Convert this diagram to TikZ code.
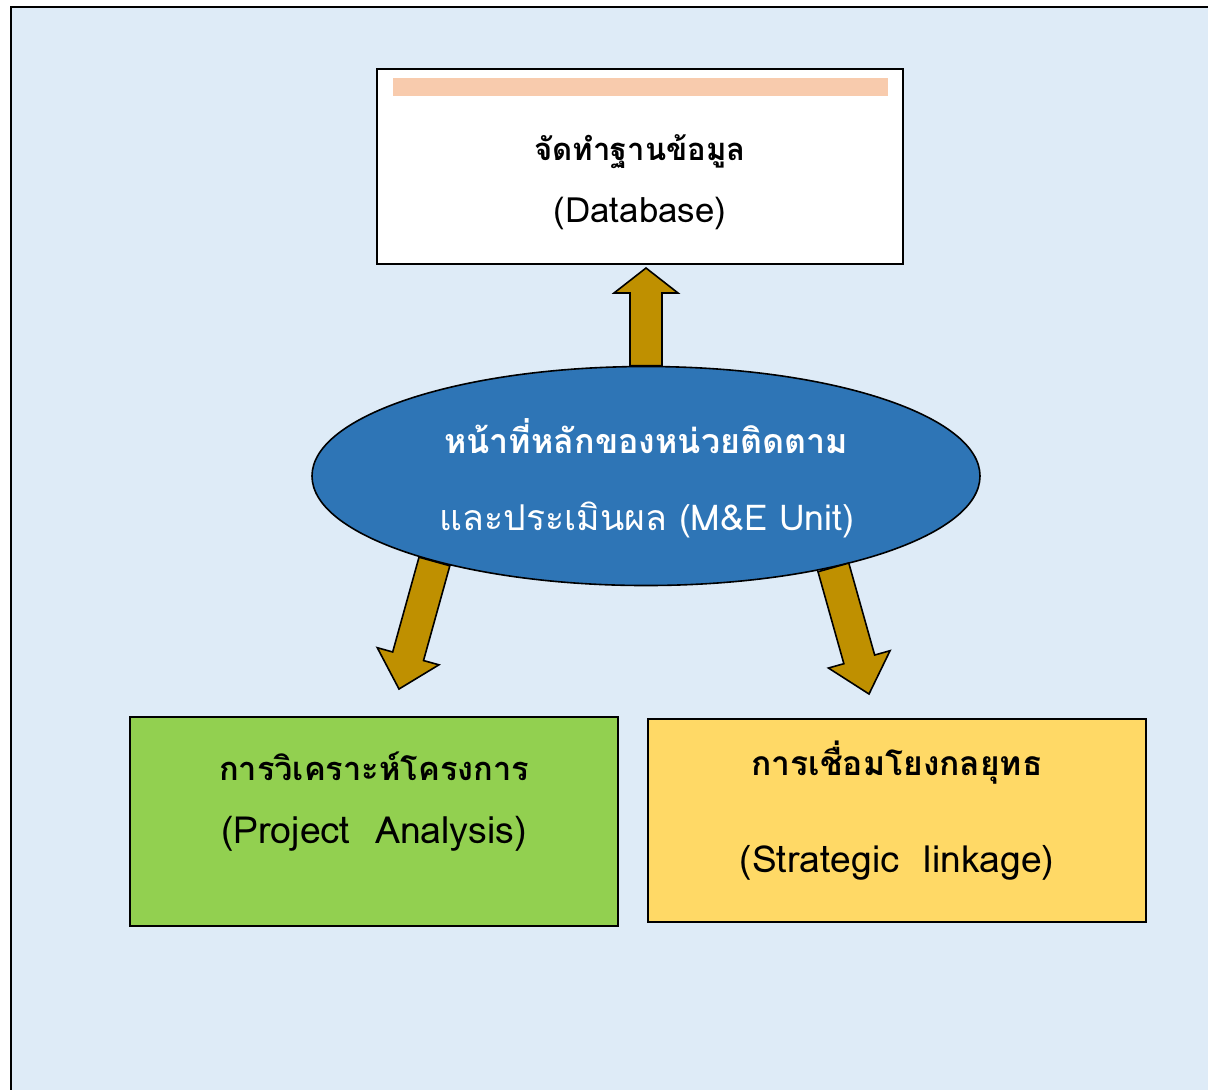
\documentclass[tikz,border=0pt]{standalone}
\usepackage{fontspec}
\setmainfont{Loma}[Script=Thai]
\usepackage{tikz}
\usetikzlibrary{positioning}
\usetikzlibrary{calc}
\usetikzlibrary{shapes.geometric}
\definecolor{pagebg}{HTML}{DEEBF7}
\definecolor{unitblue}{HTML}{2E75B6}
\definecolor{arrowgold}{HTML}{BF9000}
\definecolor{peach}{HTML}{F8CBAD}
\definecolor{projgreen}{HTML}{92D050}
\definecolor{linkyellow}{HTML}{FFD966}
\tikzset{%
  box/.style = {rectangle,draw,line width=1pt,inner sep=0pt},
  unit/.style = {ellipse,draw,line width=0.8pt,fill=unitblue,inner sep=0pt,
        minimum width=334pt,minimum height=109.5pt},
  fat/.style = {draw,line width=0.8pt,fill=arrowgold,line join=miter},
  txt/.style = {anchor=base,inner sep=0pt}
}
% block arrow: name, tail, tip, head length
\newcommand{\blockarrow}[4]{%
  \coordinate (#1hb) at ($(#3)!#4!(#2)$);
  \draw[fat] ($(#2)!8pt!90:(#3)$) -- ($(#1hb)!8pt!90:(#3)$)
    -- ($(#1hb)!16pt!90:(#3)$) -- (#3) -- ($(#1hb)!16pt!-90:(#3)$)
    -- ($(#1hb)!8pt!-90:(#3)$) -- ($(#2)!8pt!-90:(#3)$) -- cycle;
}
\begin{document}
\begin{tikzpicture}[x=0.5pt,y=-0.5pt]
    \useasboundingbox (0,0) rectangle (1208,1089);
    \draw[line width=1pt,fill=pagebg] (11,7) rectangle (1230,1110);

    % boxes
    \node[box,fill=white,minimum width=263pt,minimum height=97.5pt] (db) at (640,166.5) {};
    \fill[peach] ($(db.north west)+(17,10)$) rectangle ($(db.north east)+(-16,28)$);
    \node[box,fill=projgreen,minimum width=244pt,minimum height=104.5pt] (pa) at (374,821.5) {};
    \node[box,fill=linkyellow,minimum width=249pt,minimum height=101.5pt] (sl) at (897,820.5) {};
    \node[unit] (me) at (646,476) {};

    % texts
    \node[txt,font=\fontsize{15.5}{19}\selectfont\bfseries] (db1) at (640,160) {จัดทำฐานข้อมูล};
    \node[txt,font=\fontsize{17.4}{20}\selectfont] (db2) at (640,222) {(Database)};
    \node[txt,font=\fontsize{17}{20}\selectfont\bfseries,text=white] (me1) at (646,453) {หน้าที่หลักของหน่วยติดตาม};
    \node[txt,font=\fontsize{17.8}{21}\selectfont,text=white] (me2) at (647,530) {และประเมินผล (M\&E Unit)};
    \node[txt,font=\fontsize{16.3}{19}\selectfont\bfseries] (pa1) at (374,780) {การวิเคราะห์โครงการ};
    \node[txt,font=\fontsize{18.7}{22}\selectfont] (pa2) at (374,843) {(Project\ \ Analysis)};
    \node[txt,font=\fontsize{16.8}{20}\selectfont\bfseries] (sl1) at (897,775) {การเชื่อมโยงกลยุทธ};
    \node[txt,font=\fontsize{18.6}{22}\selectfont] (sl2) at (897,872) {(Strategic\ \ linkage)};

    % arrows
    \coordinate (dbtip) at ($(me.north |- db.south)+(0,3)$);
    \coordinate (patip) at ($(pa.north)+(25,-27)$);
    \coordinate (sltip) at ($(sl.north)+(-28,-24)$);
    \blockarrow{up}{me.north}{dbtip}{12.5pt}
    \blockarrow{left}{me.202}{patip}{17pt}
    \blockarrow{right}{me.334}{sltip}{18pt}
\end{tikzpicture}
\end{document}
